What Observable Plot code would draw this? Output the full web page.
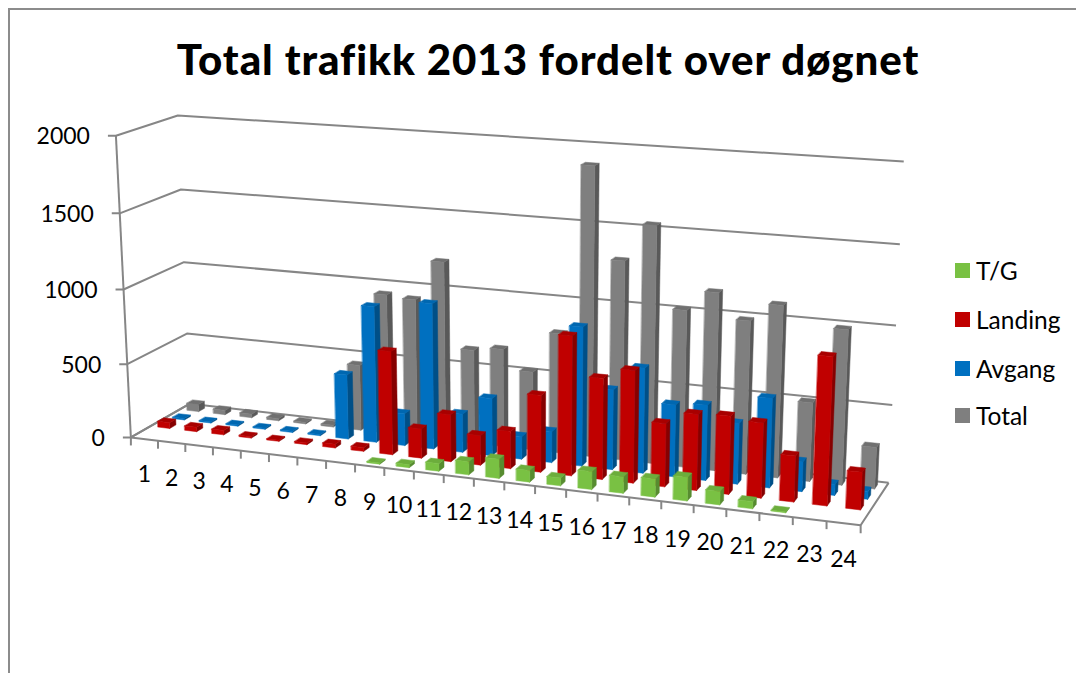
<!DOCTYPE html>
<html>
<head>
<meta charset="utf-8">
<script src="https://cdn.jsdelivr.net/npm/d3@7"></script>
<script src="https://cdn.jsdelivr.net/npm/@observablehq/plot@0.6"></script>
<style>
  html, body { margin: 0; padding: 0; background: #fff; }
  #frame { position: relative; width: 1076px; height: 673px; overflow: hidden; font-family: Lato, sans-serif; color: #000; }
  #frame svg { position: absolute; left: 0; top: 0; background: transparent; }
  #border { position: absolute; left: 8px; top: 8px; width: 1200px; height: 900px; border: 2px solid #8c8c8c; box-sizing: border-box; }
  #title { position: absolute; left: 0; width: 1096px; top: 33px; text-align: center; font-size: 42px; letter-spacing: 0.95px; font-weight: 900; line-height: 52px; white-space: nowrap; }
  .key { position: absolute; left: 955px; font-size: 24.5px; line-height: 30px; white-space: nowrap; }
  .key i { position: absolute; left: 0; top: 7px; width: 15px; height: 15px; }
  .key span { position: absolute; left: 21px; top: 0; }
</style>
</head>
<body>
<div id="frame">
  <div id="border"></div>
  <div id="title">Total trafikk 2013 fordelt over døgnet</div>
</div>
<script>
// Operations per hour of the day, 2013
const hours = d3.range(1, 25);
const tg      = [0, 0, 0, 0, 0, 0, 0, 0, 8, 20, 50, 85, 125, 75, 50, 115, 105, 115, 150, 85, 45, 5, 0, 0];
const landing = [40, 30, 30, 10, 8, 12, 25, 25, 685, 195, 310, 195, 245, 500, 900, 650, 720, 405, 485, 495, 475, 290, 925, 235];
const avgang  = [10, 8, 8, 8, 8, 8, 435, 910, 215, 965, 255, 380, 150, 205, 905, 520, 680, 465, 485, 390, 570, 190, 70, 50];
const total   = [50, 30, 25, 15, 10, 12, 445, 940, 925, 1190, 625, 650, 520, 790, 1880, 1295, 1535, 1015, 1145, 985, 1100, 505, 985, 265];
const yTicks = [0, 500, 1000, 1500, 2000];
const yMax = 2000;

// Rows of the 3D chart from front to back, each with its face shades
const rows = [
  {name: "T/G",     values: tg,      front: "#79c143", side: "#578c30", top: "#6cad3c"},
  {name: "Landing", values: landing, front: "#c00000", side: "#860000", top: "#a80000"},
  {name: "Avgang",  values: avgang,  front: "#0070c0", side: "#004f87", top: "#0067b0"},
  {name: "Total",   values: total,   front: "#7f7f7f", side: "#595959", top: "#707070"}
];

// Camera: pairs of box position (along, depth, up; each 0..1) and where they land on the page
const cameraFit = [
  [0, 0, 0, 130, 437], [0, 1, 0, 190, 403], [1, 1, 0, 888, 482], [1, 0, 0, 860, 525],
  [0, 0, 1, 116, 135], [0, 1, 1, 177, 115], [1, 1, 1, 903, 161],
  [0, 1, 0.5, 183, 262], [1, 1, 0.5, 896, 325], [0, 0, 0.5, 123, 289]
];

// Least-squares solve of the 3x4 camera matrix (last entry fixed to 1)
function solveCamera(fit) {
  const A = [], b = [];
  for (const [X, Y, Z, sx, sy] of fit) {
    A.push([X, Y, Z, 1, 0, 0, 0, 0, -sx * X, -sx * Y, -sx * Z]); b.push(sx);
    A.push([0, 0, 0, 0, X, Y, Z, 1, -sy * X, -sy * Y, -sy * Z]); b.push(sy);
  }
  const n = 11;
  const M = d3.range(n).map(i => {
    const row = d3.range(n).map(j => d3.sum(A, r => r[i] * r[j]));
    row.push(d3.sum(A, (r, k) => r[i] * b[k]));
    return row;
  });
  for (let i = 0; i < n; i++) {
    let p = i;
    for (let k = i + 1; k < n; k++) if (Math.abs(M[k][i]) > Math.abs(M[p][i])) p = k;
    [M[i], M[p]] = [M[p], M[i]];
    for (let k = 0; k < n; k++) {
      if (k === i) continue;
      const f = M[k][i] / M[i][i];
      for (let j = i; j <= n; j++) M[k][j] -= f * M[i][j];
    }
  }
  return M.map((r, i) => r[n] / r[i]);
}
const cam = solveCamera(cameraFit);
function project(u, v, w) {
  const d = cam[8] * u + cam[9] * v + cam[10] * w + 1;
  return [(cam[0] * u + cam[1] * v + cam[2] * w + cam[3]) / d,
          (cam[4] * u + cam[5] * v + cam[6] * w + cam[7]) / d];
}

// Bar faces, drawn back row first and left to right so nearer bars cover farther ones
const barWidth = 0.44, barDepth = 0.42;
const faces = [];
let faceId = 0;
function addFace(corners, color) {
  faceId++;
  for (const c of corners) {
    const [x, y] = project(...c);
    faces.push({id: faceId, x, y, color});
  }
}
for (let r = rows.length - 1; r >= 0; r--) {
  const row = rows[r];
  const v0 = (r + 0.5 - barDepth / 2) / rows.length, v1 = (r + 0.5 + barDepth / 2) / rows.length;
  hours.forEach((h, i) => {
    const value = row.values[i];
    if (!value) return;
    const u0 = (i + 0.5 - barWidth / 2) / hours.length, u1 = (i + 0.5 + barWidth / 2) / hours.length;
    const w = value / yMax;
    addFace([[u1, v0, 0], [u1, v1, 0], [u1, v1, w], [u1, v0, w]], row.side);
    addFace([[u0, v0, w], [u1, v0, w], [u1, v1, w], [u0, v1, w]], row.top);
    addFace([[u0, v0, 0], [u1, v0, 0], [u1, v0, w], [u0, v0, w]], row.front);
  });
}

// Frame lines: wall gridlines with their outward ticks, floor outline, axis ticks along the front
const tickLength = 8;
const lines = [];
function addLine(id, pts) { pts.forEach(([x, y]) => lines.push({id, x, y})); }
yTicks.forEach(t => {
  const w = t / yMax;
  const [fx, fy] = project(0, 0, w);
  addLine("grid" + t, [[fx - tickLength, fy], [fx, fy], project(0, 1, w), project(1, 1, w)]);
});
addLine("axis", [project(0, 0, 0), project(0, 0, 1)]);
addLine("floor", [project(0, 1, 0), project(0, 0, 0), project(1, 0, 0), project(1, 1, 0)]);
d3.range(hours.length + 1).forEach(i => {
  const [x, y] = project(i / hours.length, 0, 0);
  addLine("tick" + i, [[x, y], [x, y + tickLength]]);
});

const yLabels = yTicks.map(t => {
  const [x, y] = project(0, 0, t / yMax);
  return {x, y, text: String(t)};
});
const xLabels = hours.map((h, i) => {
  const [x, y] = project((i + 0.5) / hours.length, 0, 0);
  return {x, y: y + 36, text: String(h)};
});

const chart = Plot.plot({
  width: 1076, height: 673,
  margin: 0,
  x: {domain: [0, 1076], range: [0, 1076], axis: null},
  y: {domain: [0, 673], range: [0, 673], axis: null},
  color: {type: "identity"},
  style: {fontFamily: "Lato, sans-serif", background: "transparent", color: "#000"},
  marks: [
    Plot.line(lines, {x: "x", y: "y", z: "id", stroke: "#868686", strokeWidth: 2, strokeLinecap: "butt"}),
    Plot.line(faces, {x: "x", y: "y", z: "id", fill: "color", stroke: "color", strokeWidth: 0.5, curve: "linear-closed"}),
    Plot.text(yLabels, {x: "x", y: "y", text: "text", textAnchor: "end", dx: -26, dy: 1, fontSize: 23, fill: "#000"}),
    Plot.text(xLabels, {x: "x", y: "y", text: "text", fontSize: 23, fill: "#000"})
  ]
});
const frame = document.getElementById("frame");
frame.insertBefore(chart, document.getElementById("title"));

// Legend down the right side
const keyTops = [256, 305, 354, 401];
rows.forEach((row, i) => {
  const key = document.createElement("div");
  key.className = "key";
  key.style.top = keyTops[i] + "px";
  const swatch = document.createElement("i");
  swatch.style.background = row.front;
  const label = document.createElement("span");
  label.textContent = row.name;
  key.append(swatch, label);
  frame.append(key);
});
</script>
</body>
</html>
